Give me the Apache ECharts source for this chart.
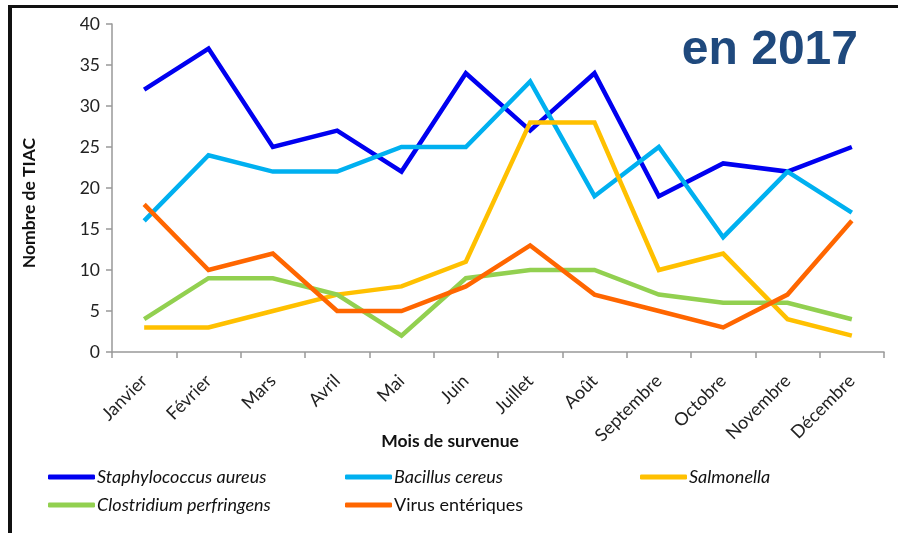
<!DOCTYPE html>
<html>
<head>
<meta charset="utf-8">
<script src="https://cdn.jsdelivr.net/npm/echarts@6/dist/echarts.min.js"></script>
<style>
html,body{margin:0;padding:0;background:#fff;}
#c{width:898px;height:533px;}
</style>
</head>
<body>
<div id="c"></div>
<script>
const months = ['Janvier','Février','Mars','Avril','Mai','Juin','Juillet','Août','Septembre','Octobre','Novembre','Décembre'];
const yTicks = [0,5,10,15,20,25,30,35,40];
const staph = [32,37,25,27,22,34,27,34,19,23,22,25];
const bacillus = [16,24,22,22,25,25,33,19,25,14,22,17];
const salmonella = [3,3,5,7,8,11,28,28,10,12,4,2];
const clostridium = [4,9,9,7,2,9,10,10,7,6,6,4];
const virus = [18,10,12,5,5,8,13,7,5,3,7,16];

const names = ['Staphylococcus aureus','Bacillus cereus','Salmonella','Clostridium perfringens','Virus entériques'];
const colors = ['#0000F0','#00B0F0','#FFC000','#92D050','#FF6600'];
const values = [staph,bacillus,salmonella,clostridium,virus];
const legendPos = [[48,468],[345,468],[640,468],[48,496],[345,496]];
const FONT = 'Lato, "Open Sans", sans-serif';

const chart = echarts.init(document.getElementById('c'), null, {renderer:'canvas'});
const legends = names.map((n,i)=>({
  data:[n], left:legendPos[i][0], top:legendPos[i][1],
  icon:'roundRect', itemWidth:47, itemHeight:5, itemGap:2,
  padding:0,
  textStyle:{fontFamily:FONT, fontSize:18, color:'#111', fontStyle: i===4?'normal':'italic', padding:[0,0,0,-3]},
  selectedMode:false
}));
chart.setOption({
  backgroundColor:'#fff',
  animation:false,
  title:{text:'en 2017', right:35, top:22, textStyle:{fontFamily:'"Liberation Sans", Arial, sans-serif', fontWeight:'bold', fontSize:48, color:'#1F497D'}},
  legend: legends,
  graphic:[
    {type:'rect', shape:{x:8,y:5,width:890,height:3}, style:{fill:'#111'}},
    {type:'rect', shape:{x:8,y:5,width:4,height:528}, style:{fill:'#111'}}
  ],
  grid:{left:112, right:14, top:24, bottom:181, containLabel:false},
  xAxis:{
    type:'category', data:months, boundaryGap:true,
    name:'Mois de survenue', nameLocation:'middle', nameGap:80, nameMoveOverlap:false,
    nameTextStyle:{fontFamily:FONT, fontWeight:'bold', fontSize:17.5, color:'#111', padding:[0,96,0,0]},
    axisLine:{lineStyle:{color:'#999', width:1.5}},
    axisTick:{show:true, length:6, alignWithLabel:false, lineStyle:{color:'#999', width:1.5}},
    axisLabel:{rotate:45, fontFamily:FONT, fontSize:18, color:'#222', margin:26, interval:0},
    splitLine:{show:false}
  },
  yAxis:{
    type:'value', min:0, max:40, interval:5,
    name:'Nombre de TIAC', nameLocation:'middle', nameGap:74, nameRotate:90,
    nameTextStyle:{fontFamily:FONT, fontWeight:'bold', fontSize:17.5, color:'#111', padding:[0,30,0,0]},
    axisLine:{show:true, lineStyle:{color:'#999', width:1.5}},
    axisTick:{show:true, length:6, lineStyle:{color:'#999', width:1.5}},
    axisLabel:{fontFamily:FONT, fontSize:17.5, color:'#222', margin:12,
      formatter:v=> yTicks.includes(v)? String(v):''},
    splitLine:{show:false}
  },
  series: names.map((n,i)=>({
    name:n, type:'line', data:values[i], symbol:'none', showSymbol:false,
    lineStyle:{color:colors[i], width:4.5, join:'miter'},
    itemStyle:{color:colors[i]}
  }))
});
</script>
</body>
</html>
